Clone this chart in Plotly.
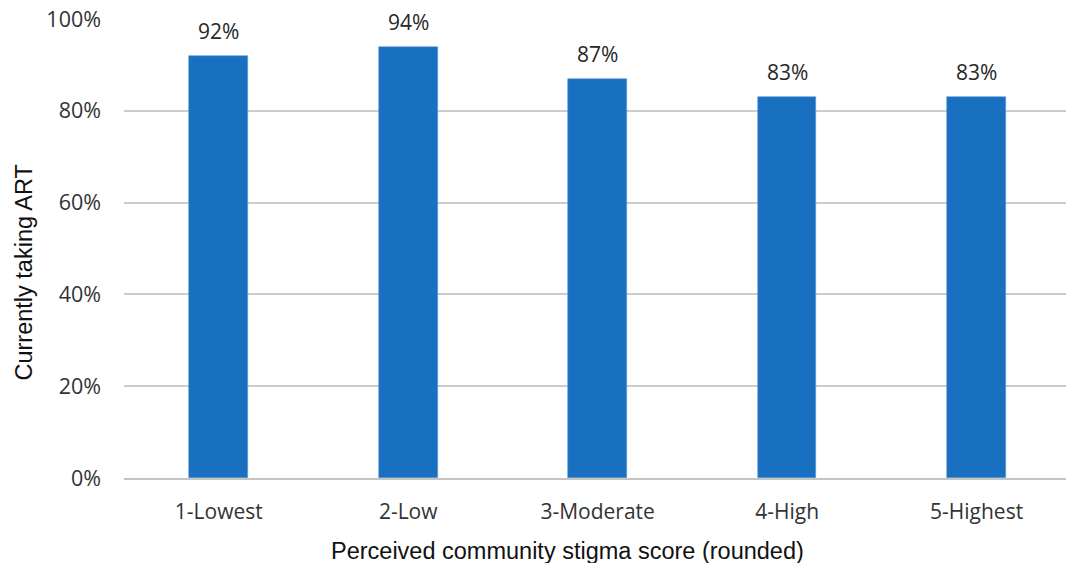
import plotly.graph_objects as go

categories = ["1-Lowest", "2-Low", "3-Moderate", "4-High", "5-Highest"]
values = [0.92, 0.94, 0.87, 0.83, 0.83]
labels = ["92%", "94%", "87%", "83%", "83%"]
y_ticks = [0, 0.2, 0.4, 0.6, 0.8, 1.0]
y_tick_text = ["0%", "20%", "40%", "60%", "80%", "100%"]
x_title = "Perceived community stigma score (rounded)"
y_title = "Currently taking ART"

fig = go.Figure()
fig.add_trace(go.Bar(
    x=categories, y=values, width=0.31,
    marker=dict(color="#1a70c0", line=dict(color="#5a9ad8", width=0.6)),
    hoverinfo="skip",
))
for c, v, t in zip(categories, values, labels):
    fig.add_annotation(x=c, y=v, text=t, showarrow=False, yanchor="bottom",
                       yshift=9, font=dict(family="Open Sans", size=21, color="#262626"))

title_font = dict(family="Liberation Sans, Arial", size=23.5, color="#111111")
fig.add_annotation(text=x_title, xref="paper", yref="paper", x=0.4708, y=-0.159,
                   xanchor="center", yanchor="middle", showarrow=False, font=title_font)
fig.add_annotation(text=y_title, xref="paper", yref="paper", x=-0.1072, y=0.4477,
                   xanchor="center", yanchor="middle", textangle=-90, showarrow=False,
                   font=title_font)

fig.update_layout(
    width=1066, height=563,
    margin=dict(l=124, r=0, t=19, b=85),
    plot_bgcolor="white", paper_bgcolor="white",
    showlegend=False,
    bargap=0,
)
fig.update_xaxes(
    range=[-0.5, 4.472], showgrid=False, showline=True, linecolor="#c4c4c4", linewidth=2,
    ticks="", ticklabelstandoff=14,
    tickfont=dict(family="Open Sans", size=21, color="#333333"),
    fixedrange=True,
)
fig.update_yaxes(
    range=[0, 1], tickvals=y_ticks, ticktext=y_tick_text,
    showgrid=True, gridcolor="#cccccc", gridwidth=2, zeroline=False, showline=False,
    ticks="", ticklabelstandoff=22,
    tickfont=dict(family="Open Sans", size=21.5, color="#333333"),
    fixedrange=True,
)

fig.write_html("out.html", config={"displayModeBar": False})
